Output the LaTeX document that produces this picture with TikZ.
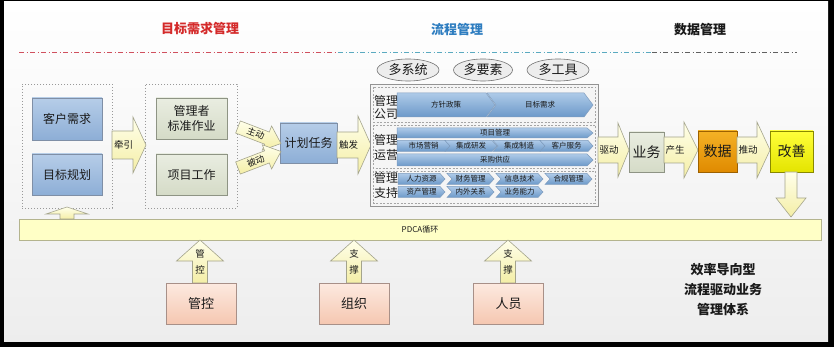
\documentclass[tikz,border=0pt]{standalone}
\usepackage{fontspec}
\setmainfont{Noto Sans CJK SC}
\usetikzlibrary{shapes.geometric}
\definecolor{titred}{HTML}{D42A2A}
\definecolor{titblue}{HTML}{2E7DC0}
\definecolor{txt}{HTML}{1A1A1A}
\definecolor{arrowtop}{HTML}{FFFFEA}
\definecolor{arrowbot}{HTML}{F4EEA6}
\definecolor{arrowdraw}{HTML}{A4A48C}
\definecolor{bluetop}{HTML}{B6CDE8}
\definecolor{bluebot}{HTML}{8DAED6}
\definecolor{bluedraw}{HTML}{7F8FA6}
\definecolor{greytop}{HTML}{E9EDE1}
\definecolor{greybot}{HTML}{D5DBC7}
\definecolor{greydraw}{HTML}{8E9484}
\definecolor{chevtop}{HTML}{AECAE8}
\definecolor{chevbot}{HTML}{6C99C9}
\definecolor{chevdraw}{HTML}{7E9CBE}
\definecolor{pinktop}{HTML}{FDEAE0}
\definecolor{pinkbot}{HTML}{F5C7B1}
\definecolor{pinkdraw}{HTML}{A89088}
\definecolor{orgtop}{HTML}{F4B226}
\definecolor{orgbot}{HTML}{E08A00}
\definecolor{yeltop}{HTML}{FFFF3A}
\definecolor{yelbot}{HTML}{E4E400}
\definecolor{pdcafill}{HTML}{FFFFC6}
\definecolor{pdcadraw}{HTML}{B4B48E}
\definecolor{ellfill}{HTML}{EDEDED}
\definecolor{linered}{HTML}{D0505E}
\definecolor{lineteal}{HTML}{5AAAC0}
\definecolor{linegrey}{HTML}{606060}
\tikzset{
  arrowsty/.style={draw=arrowdraw, top color=arrowtop, bottom color=arrowbot, line width=0.6pt},
  arrowlabel/.style={font=\fontsize{9.5}{10}\selectfont, text=txt, inner sep=0pt},
  boxbase/.style={rectangle, line width=0.6pt, text=txt, align=center, inner sep=1pt},
  bluebox/.style={boxbase, draw=bluedraw, top color=bluetop, bottom color=bluebot, font=\fontsize{12}{15}\selectfont},
  greybox/.style={boxbase, draw=greydraw, top color=greytop, bottom color=greybot, font=\fontsize{12}{15}\selectfont},
  pinkbox/.style={boxbase, draw=pinkdraw, top color=pinktop, bottom color=pinkbot, font=\fontsize{13}{15}\selectfont, minimum width=70pt, minimum height=41pt},
  dotbox/.style={rectangle, draw=gray!80, dash pattern=on 0.8pt off 2.2pt, line width=0.7pt},
  ell/.style={ellipse, draw=gray!90!black, fill=ellfill, line width=0.6pt, text=txt, font=\fontsize{13}{14}\selectfont, minimum width=62pt, minimum height=22pt, inner sep=0pt},
  chevsty/.style={draw=chevdraw, top color=chevtop, bottom color=chevbot, line width=0.5pt},
  chevlabel/.style={font=\fontsize{7.5}{8}\selectfont, text=txt, inner sep=0pt},
  rowlabel/.style={font=\fontsize{12}{13}\selectfont, text=txt, inner sep=0pt},
  secbox/.style={draw=gray!70, dash pattern=on 2pt off 1.5pt, line width=0.5pt},
  title/.style={font=\fontsize{13}{15}\selectfont\bfseries, inner sep=0pt},
}
% horizontal block arrow: name, x1, x2(head base), x3(tip), yc, body half, head half, label
\newcommand\harrow[8]{%
  \path[arrowsty] (#2,#5-#6) -- (#3,#5-#6) -- (#3,#5-#7) -- (#4,#5) -- (#3,#5+#7) -- (#3,#5+#6) -- (#2,#5+#6) -- cycle;
  \node[arrowlabel] (#1) at ({(#2+#3)/2+1},#5) {#8};
}
% vertical block arrow: name, xc, y1 (tail), y2 (head base), y3 (tip), body half, head half, label
\newcommand\varrow[8]{%
  \path[arrowsty] (#2-#6,#3) -- (#2-#6,#4) -- (#2-#7,#4) -- (#2,#5) -- (#2+#7,#4) -- (#2+#6,#4) -- (#2+#6,#3) -- cycle;
  \node[arrowlabel, align=center, font=\fontsize{9.5}{16}\selectfont] (#1) at (#2,{(#3+#5)/2}) {#8};
}
% chevron: name, x1, x2 (tip), yc, h, depth, notch (0/1), text
\newcommand\chev[8]{%
  \path[chevsty] (#2,#4-#5/2) -- (#3-#6,#4-#5/2) -- (#3,#4) -- (#3-#6,#4+#5/2) -- (#2,#4+#5/2) -- (#2+#7*#6,#4) -- cycle;
  \node[chevlabel] (#1) at ({(#2+#3)/2},#4) {#8};
}
\begin{document}
\begin{tikzpicture}[x=1pt,y=-1pt]
\useasboundingbox (0,0) rectangle (834,347);
% frame and panel
\fill[black] (0,0) rectangle (834,347);
\shade[top color=white, bottom color=black!7] (4,2) rectangle (828,341);
% titles
\node[title, text=titred] (t1) at (200,29) {目标需求管理};
\node[title, text=titblue] (t2) at (457,30) {流程管理};
\node[title, text=txt] (t3) at (700,30) {数据管理};
% dash-dot line
\coordinate (la) at (19,52);
\coordinate (lb) at (338,52);
\coordinate (lc) at (652,52);
\coordinate (ld) at (797,52);
\draw[linered, line width=0.8pt, dash pattern=on 5pt off 2.5pt on 1pt off 2.5pt] (la) -- (lb);
\draw[lineteal, line width=0.8pt, dash pattern=on 5pt off 2.5pt on 1pt off 2.5pt] (lb) -- (lc);
\draw[linegrey, line width=0.8pt, dash pattern=on 5pt off 2.5pt on 1pt off 2.5pt] (lc) -- (ld);
% left groups
\node[dotbox, minimum width=90pt, minimum height=124pt] (g1) at (67,146) {};
\node[dotbox, minimum width=92pt, minimum height=124pt] (g2) at (191,146) {};
\node[bluebox, minimum width=70pt, minimum height=42pt] (kehu) at (67,119) {客户需求};
\node[bluebox, minimum width=70pt, minimum height=41pt] (mubiao) at (67,174.5) {目标规划};
\node[greybox, minimum width=71pt, minimum height=41pt] (guanli) at (191.5,118.5) {管理者\\标准作业};
\node[greybox, minimum width=71pt, minimum height=41pt] (xiangmu) at (191.5,174.5) {项目工作};
\node[bluebox, minimum width=57pt, minimum height=40pt] (jihua) at (308.5,143) {计划任务};
% arrows
\harrow{qianyin}{112}{133}{146}{145}{14}{28}{牵引}
\harrow{chufa}{337}{358}{371}{145}{13}{29}{触发}
\begin{scope}[shift={(238,127)}, rotate=-21]
  \path[arrowsty] (0,-6.5) -- (31,-6.5) -- (31,-13) -- (46,0) -- (31,13) -- (31,6.5) -- (0,6.5) -- cycle;
  \node[arrowlabel, transform shape, font=\fontsize{9}{10}\selectfont] (zhudong) at (19,0) {主动};
\end{scope}
\begin{scope}[shift={(238,168)}, rotate=21]
  \path[arrowsty] (0,-6.5) -- (31,-6.5) -- (31,-13) -- (46,0) -- (31,13) -- (31,6.5) -- (0,6.5) -- cycle;
  \node[arrowlabel, transform shape, font=\fontsize{9}{10}\selectfont] (beidong) at (19,0) {被动};
\end{scope}
% ellipses
\node[ell] (e1) at (408,70) {多系统};
\node[ell, minimum width=59pt] (e2) at (483,70) {多要素};
\node[ell] (e3) at (558,70) {多工具};
% process container
\node[rectangle, draw=gray!85, fill=white!96!black, line width=0.6pt, minimum width=228pt, minimum height=122pt] (proc) at (484,145) {};
\draw[secbox] (373,87) rectangle (595,122);
\draw[secbox] (373,125) rectangle (595,168);
\draw[secbox] (373,171) rectangle (595,203);
\node[rowlabel] (r1a) at (386,101) {管理};
\node[rowlabel] (r1b) at (386,114) {公司};
\node[rowlabel] (r2a) at (386,140) {管理};
\node[rowlabel] (r2b) at (386,155) {运营};
\node[rowlabel] (r3a) at (386,178) {管理};
\node[rowlabel] (r3b) at (386,193) {支持};
\chev{c11}{397}{495}{105}{24}{9}{0}{方针政策}
\chev{c12}{487}{593}{105}{24}{9}{1}{目标需求}
\chev{c21}{397}{593}{133}{10}{6}{0}{项目管理}
\chev{c22}{397}{450}{146}{11}{5}{0}{市场营销}
\chev{c23}{445}{497}{146}{11}{5}{1}{集成研发}
\chev{c24}{493}{545}{146}{11}{5}{1}{集成制造}
\chev{c25}{540}{593}{146}{11}{5}{1}{客户服务}
\chev{c26}{397}{593}{160}{12}{6}{0}{采购供应}
\chev{c31}{398}{445}{179}{11}{5}{0}{人力资源}
\chev{c32}{447}{494}{179}{11}{5}{1}{财务管理}
\chev{c33}{496}{543}{179}{11}{5}{1}{信息技术}
\chev{c34}{545}{592}{179}{11}{5}{1}{合规管理}
\chev{c35}{398}{445}{192}{11}{5}{0}{资产管理}
\chev{c36}{447}{494}{192}{11}{5}{1}{内外关系}
\chev{c37}{496}{543}{192}{11}{5}{1}{业务能力}
% data chain
\harrow{qudong}{598}{618}{629}{150}{13}{27}{驱动}
\node[greybox, font=\fontsize{14}{16}\selectfont, minimum width=35pt, minimum height=40pt] (yewu) at (646.5,152) {业务};
\harrow{chansheng}{664}{684}{698}{150}{13}{28}{产生}
\node[boxbase, draw=orgbot!70!black, top color=orgtop, bottom color=orgbot, font=\fontsize{14}{16}\selectfont, minimum width=39pt, minimum height=41pt] (shuju) at (717.5,151.5) {数据};
\harrow{tuidong}{737}{757}{770}{150}{13}{28}{推动}
\node[boxbase, draw=yelbot!60!black, top color=yeltop, bottom color=yelbot, font=\fontsize{14}{16}\selectfont, minimum width=43pt, minimum height=41pt] (gaishan) at (791.5,151.5) {改善};
\varrow{down}{791}{172}{198}{217}{6}{15}{}
% PDCA bar
\node[rectangle, draw=pdcadraw, fill=pdcafill, line width=0.6pt, minimum width=802pt, minimum height=21pt, font=\fontsize{8}{9}\selectfont, text=txt, inner sep=0pt] (pdca) at (420,229.5) {PDCA循环};
\varrow{up0}{67}{219}{214}{207}{7}{21}{}
% bottom supports
\varrow{a1}{200}{283}{261}{240}{7.5}{23.5}{管\\控}
\varrow{a2}{354}{283}{261}{240}{7.5}{23.5}{支\\撑}
\varrow{a3}{508}{283}{261}{240}{7.5}{23.5}{支\\撑}
\node[pinkbox] (guankong) at (201,303.5) {管控};
\node[pinkbox] (zuzhi) at (354,303.5) {组织};
\node[pinkbox] (renyuan) at (508.5,303.5) {人员};
% right text
\node[align=center, font=\fontsize{13}{20}\selectfont\bfseries, text=txt, inner sep=0pt] (xiaolv) at (723,290) {效率导向型\\流程驱动业务\\管理体系};
\end{tikzpicture}
\end{document}
